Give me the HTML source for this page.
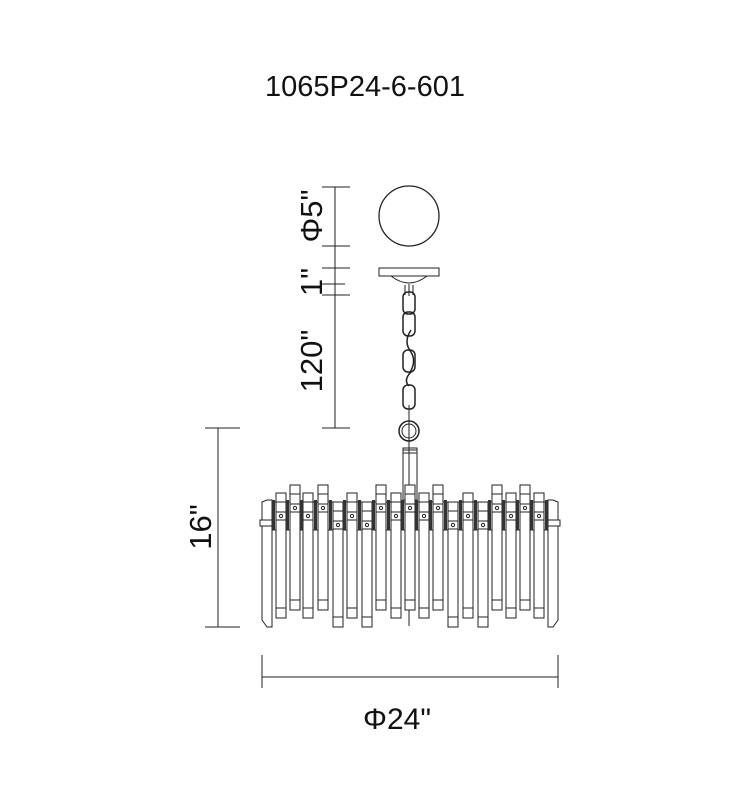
<!DOCTYPE html>
<html><head><style>body{margin:0;background:#fff}svg{display:block}text{font-family:"Liberation Sans",sans-serif;fill:#111}</style></head>
<body>
<svg width="730" height="800" viewBox="0 0 730 800" xmlns="http://www.w3.org/2000/svg">
<defs>
<g id="c" fill="#fff" stroke="#222" stroke-width="1">
<rect x="0" y="0" width="10" height="125"/>
<line x1="0" y1="9" x2="10" y2="9"/>
<line x1="0" y1="115" x2="10" y2="115"/>
<rect x="0" y="19" width="10" height="8"/>
<circle cx="5" cy="23" r="1.6"/>
</g>
</defs>
<text x="365" y="96" font-size="29" text-anchor="middle">1065P24-6-601</text>
<g stroke="#222" stroke-width="1" fill="none">
<line x1="335" y1="187" x2="335" y2="428"/>
<line x1="322" y1="187" x2="350" y2="187"/>
<line x1="322" y1="246" x2="350" y2="246"/>
<line x1="322" y1="268" x2="350" y2="268"/>
<line x1="322" y1="284" x2="345" y2="284"/>
<line x1="322" y1="295" x2="350" y2="295"/>
<line x1="322" y1="428" x2="350" y2="428"/>
<line x1="218" y1="428" x2="218" y2="627"/>
<line x1="205" y1="428" x2="240" y2="428"/>
<line x1="205" y1="627" x2="240" y2="627"/>
<line x1="262" y1="677" x2="558" y2="677"/>
<line x1="262" y1="655" x2="262" y2="688"/>
<line x1="558" y1="655" x2="558" y2="688"/>
<circle cx="409" cy="216" r="30" stroke-width="1.3"/>
<rect x="379" y="268" width="60" height="8"/>
<path d="M391 276 Q409 290 427 276"/>
<path d="M405 285 l0 10 M409 284 l0 12 M413 285 l0 10" />
<rect x="403" y="292" width="12" height="22" rx="5" stroke-width="1.5"/>
<rect x="403" y="312" width="12" height="24" rx="5" stroke-width="1.5"/>
<path d="M411 330 q-8 12 0 22 q6 10 -2 22" stroke-width="1.5"/>
<rect x="403" y="350" width="12" height="22" rx="5" stroke-width="1.5"/>
<rect x="403" y="385" width="12" height="24" rx="5" stroke-width="1.5"/>
<path d="M411 372 q-8 8 -2 14" stroke-width="1.5"/>
<circle cx="409" cy="431" r="10" stroke-width="1.5"/>
<circle cx="409" cy="431" r="7"/>
<line x1="409" y1="405" x2="409" y2="626"/>
<rect x="403" y="450" width="14" height="50"/>
<rect x="403" y="448" width="14" height="5"/>
</g>
<text font-size="31" transform="translate(322,216) rotate(-90)" text-anchor="middle">Φ5"</text>
<text font-size="31" transform="translate(322,282) rotate(-90)" text-anchor="middle">1"</text>
<text font-size="31" transform="translate(322,361) rotate(-90)" text-anchor="middle">120"</text>
<text font-size="31" transform="translate(211,527) rotate(-90)" text-anchor="middle">16"</text>
<text x="397" y="729" font-size="30" text-anchor="middle">Φ24"</text>
<g stroke="#222" fill="none">
<line x1="272" y1="502" x2="548" y2="502"/>
<line x1="272" y1="530" x2="548" y2="530"/>
</g>
<g fill="#fff" stroke="#222">
<path d="M262 502 L267 500 L272 500 L272 627 L267 627 L262 620 Z"/>
<path d="M558 502 L553 500 L548 500 L548 627 L553 627 L558 620 Z"/>
<rect x="260" y="520" width="12" height="6"/>
<rect x="548" y="520" width="12" height="6"/>
</g>
<use href="#c" x="276" y="493"/>
<use href="#c" x="290" y="485"/>
<use href="#c" x="303" y="493"/>
<use href="#c" x="318" y="485"/>
<use href="#c" x="333" y="502"/>
<use href="#c" x="347" y="493"/>
<use href="#c" x="362" y="502"/>
<use href="#c" x="376" y="485"/>
<use href="#c" x="391" y="493"/>
<use href="#c" x="405" y="485"/>
<use href="#c" x="419" y="493"/>
<use href="#c" x="433" y="485"/>
<use href="#c" x="448" y="502"/>
<use href="#c" x="463" y="493"/>
<use href="#c" x="478" y="502"/>
<use href="#c" x="492" y="485"/>
<use href="#c" x="506" y="493"/>
<use href="#c" x="520" y="485"/>
<use href="#c" x="534" y="493"/>
<g fill="#333">
<rect x="272" y="500" width="3" height="30"/>
<rect x="286" y="500" width="3" height="30"/>
<rect x="300" y="500" width="3" height="30"/>
<rect x="314" y="500" width="3" height="30"/>
<rect x="329" y="500" width="3" height="30"/>
<rect x="343" y="500" width="3" height="30"/>
<rect x="358" y="500" width="3" height="30"/>
<rect x="372" y="500" width="3" height="30"/>
<rect x="387" y="500" width="3" height="30"/>
<rect x="401" y="500" width="3" height="30"/>
<rect x="415" y="500" width="3" height="30"/>
<rect x="429" y="500" width="3" height="30"/>
<rect x="444" y="500" width="3" height="30"/>
<rect x="459" y="500" width="3" height="30"/>
<rect x="474" y="500" width="3" height="30"/>
<rect x="488" y="500" width="3" height="30"/>
<rect x="502" y="500" width="3" height="30"/>
<rect x="516" y="500" width="3" height="30"/>
<rect x="530" y="500" width="3" height="30"/>
<rect x="545" y="500" width="3" height="30"/>
</g>
</svg>
</body></html>
